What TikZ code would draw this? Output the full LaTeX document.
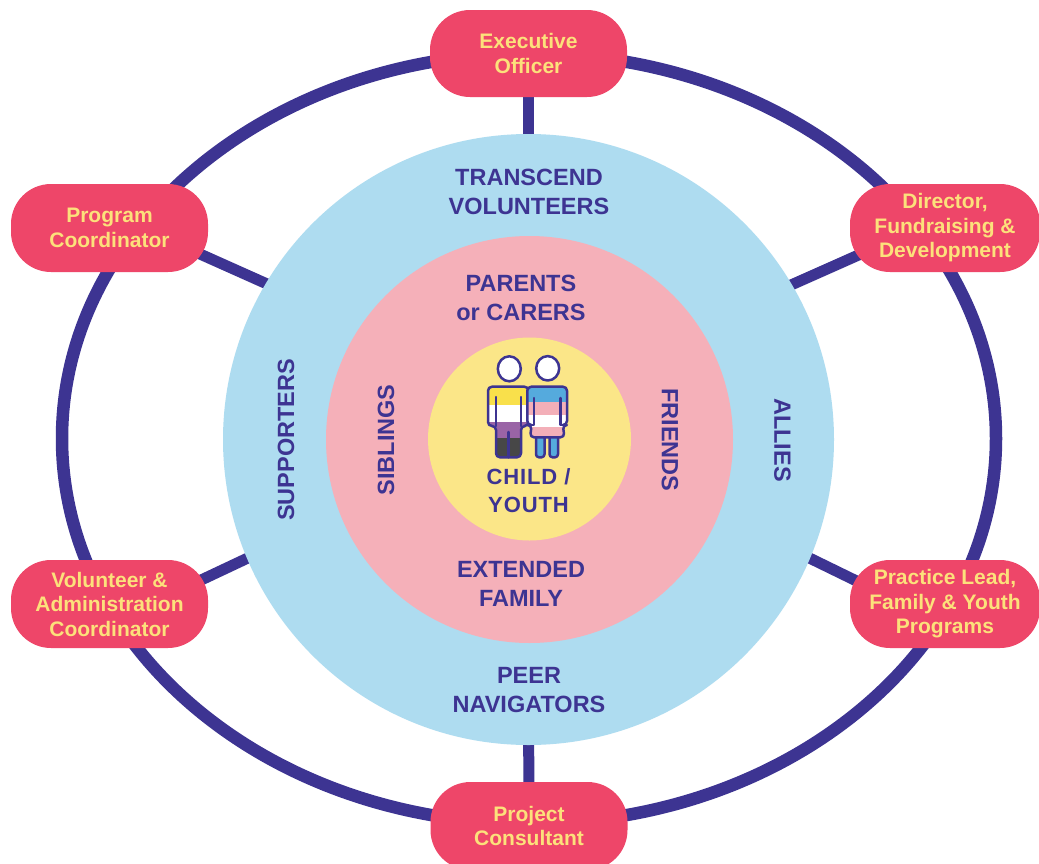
\documentclass[tikz,border=0pt]{standalone}
\usepackage{fontspec}
\setmainfont{Liberation Sans}
\definecolor{navy}{HTML}{3D3492}
\definecolor{boxpink}{HTML}{EE4669}
\definecolor{boxtext}{HTML}{FCE17B}
\definecolor{ringblue}{HTML}{AEDCF0}
\definecolor{ringpink}{HTML}{F5B0B9}
\definecolor{ringyellow}{HTML}{FBE688}
\definecolor{nbyellow}{HTML}{F9E04B}
\definecolor{nbpurple}{HTML}{9A64A6}
\definecolor{nbdark}{HTML}{474747}
\definecolor{trblue}{HTML}{55AADD}
\definecolor{trpink}{HTML}{F3AFB8}
\pgfdeclarelayer{back}
\pgfdeclarelayer{rings}
\pgfsetlayers{back,rings,main}
\begin{document}
\begin{tikzpicture}[x=1pt,y=-1pt,
  rolebox/.style={shape=rectangle, fill=boxpink, rounded corners=40pt,
    minimum width=197pt, minimum height=88pt, inner sep=0pt, align=center,
    text=boxtext, font=\fontsize{21}{24.5}\selectfont\bfseries},
  spoke/.style={draw=navy, line width=11pt},
  ctext/.style={text=navy, align=center, inner sep=0pt,
    font=\fontsize{23.5}{29}\selectfont\bfseries},
  figline/.style={draw=navy, line width=2.5pt, line join=round, line cap=round}]
\useasboundingbox (0,0) rectangle (1039,863);
\clip (0,0) rectangle (1039,863);

% role boxes
\node[rolebox, minimum height=87pt] (exec) at (528.5,53.5) {Executive\\Officer};
\node[rolebox] (prog) at (109.5,228) {Program\\Coordinator};
\node[rolebox, minimum width=190pt] (dir) at (945,228) {Director,\\Fundraising \&\\Development};
\node[rolebox] (vol) at (109.5,604) {Volunteer \&\\Administration\\Coordinator};
\node[rolebox, minimum width=190pt] (prac) at (945,604) {Practice Lead,\\Family \& Youth\\Programs};
\node[rolebox] (proj) at (529,826) {Project\\Consultant};

% spoke ends
\coordinate (cexec) at (528.5,220);
\coordinate (cproj) at (528.5,690);
\coordinate (pA) at (170,240.6);  \coordinate (pB) at (300,298.7);
\coordinate (vA) at (170,594.7);  \coordinate (vB) at (300,533.4);
\coordinate (dA) at (890,241);    \coordinate (dB) at (760,298.8);
\coordinate (rA) at (890,597.3);  \coordinate (rB) at (760,533.9);

\begin{pgfonlayer}{back}
\fill[white] (0,0) rectangle (1039,863);
\draw[navy, line width=12.5pt] (529,438.5) ellipse [x radius=467, y radius=385];
\draw[spoke] (exec.center) -- (cexec);
\draw[spoke] (proj.center) -- (cproj);
\draw[spoke] (pA) -- (pB);
\draw[spoke] (vA) -- (vB);
\draw[spoke] (dA) -- (dB);
\draw[spoke] (rA) -- (rB);
\end{pgfonlayer}

\begin{pgfonlayer}{rings}
\fill[ringblue] (528.5,439.5) circle[radius=305.5];
\fill[ringpink] (529.5,439.5) circle[radius=203.5];
\fill[ringyellow] (529.5,439) circle[radius=101.5];
\end{pgfonlayer}

% ring labels
\node[ctext] (transcend) at (529,191.5) {TRANSCEND\\VOLUNTEERS};
\node[ctext] (parents) at (521,297.5) {PARENTS\\or CARERS};
\node[ctext] (extended) at (521,583.5) {EXTENDED\\FAMILY};
\node[ctext] (peer) at (529,690.5) {PEER\\NAVIGATORS};
\node[ctext, rotate=90] (supporters) at (286,440) {SUPPORTERS};
\node[ctext, rotate=90] (siblings) at (386,440) {SIBLINGS};
\node[ctext, rotate=-90] (friends) at (670,440) {FRIENDS};
\node[ctext, rotate=-90] (allies) at (782.5,440) {ALLIES};
\node[ctext, font=\fontsize{22}{27.5}\selectfont\bfseries\addfontfeature{LetterSpace=4}] (child) at (528.5,490.5) {CHILD /\\YOUTH};

% left figure (non-binary colours)
\begin{scope}
\clip[rounded corners=4pt] (488,426) -- (488,386.7) -- (528.5,386.7) -- (528.5,426) -- (521,426) -- (521,457.3) -- (496,457.3) -- (496,426) -- cycle;
\fill[nbyellow] (480,380) rectangle (540,405);
\fill[white] (480,405) rectangle (540,421.7);
\fill[nbpurple] (480,421.7) rectangle (540,438.3);
\fill[nbdark] (480,438.3) rectangle (540,462);
\end{scope}
\draw[figline, rounded corners=4pt] (488,426) -- (488,386.7) -- (528.5,386.7) -- (528.5,426) -- (521,426) -- (521,457.3) -- (496,457.3) -- (496,426) -- cycle;
\draw[figline] (496,397) -- (496,426);
\draw[figline] (521,397) -- (521,426);
\draw[figline] (508.5,432) -- (508.5,457.3);
\draw[figline, fill=white] (509.3,368.8) ellipse [x radius=11.5, y radius=12.5];

% right figure (trans colours)
\draw[figline, fill=trblue, rounded corners=3pt] (536,432) rectangle (544.5,457.3);
\draw[figline, fill=trblue, rounded corners=3pt] (549.5,432) rectangle (558,457.3);
\begin{scope}
\clip[rounded corners=4pt] (527.3,425) -- (527.3,386.7) -- (567,386.7) -- (567,425) -- (562.8,425) -- (564.5,437.3) -- (530,437.3) -- (531.7,425) -- cycle;
\fill[trblue] (520,380) rectangle (575,401.7);
\fill[trpink] (520,401.7) rectangle (575,415);
\fill[white] (520,415) rectangle (575,427.3);
\fill[trpink] (520,427.3) rectangle (575,440);
\end{scope}
\draw[figline, rounded corners=4pt] (527.3,425) -- (527.3,386.7) -- (567,386.7) -- (567,425) -- (562.8,425) -- (564.5,437.3) -- (530,437.3) -- (531.7,425) -- cycle;
\draw[figline] (531.7,425) -- (534,425) -- (534,398);
\draw[figline] (562.8,425) -- (560.5,425) -- (560.5,398);
\draw[figline, fill=white] (547.7,368.3) ellipse [x radius=11.5, y radius=12.2];
\end{tikzpicture}
\end{document}
